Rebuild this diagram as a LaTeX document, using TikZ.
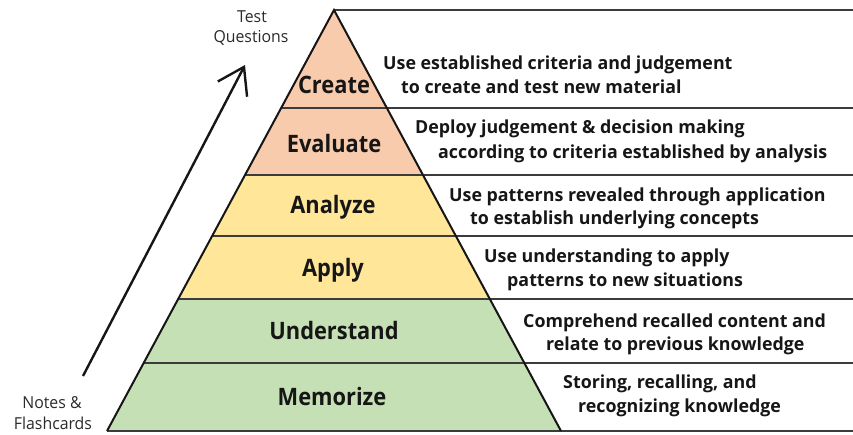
\documentclass[tikz,border=0pt]{standalone}
\usepackage{fontspec}
\setmainfont{Open Sans}[FakeStretch=0.91]
\newfontfamily\descfont{Open Sans}[FakeStretch=0.99]
\newfontfamily\sidefont{Open Sans}[FakeStretch=0.96]
\usetikzlibrary{arrows.meta}
\definecolor{peach}{HTML}{F8CBAD}
\definecolor{gold}{HTML}{FFE699}
\definecolor{leaf}{HTML}{C5E0B4}
\definecolor{ink}{HTML}{161616}
\definecolor{rulec}{HTML}{3C3C3C}
\definecolor{sidec}{HTML}{2A2A2A}
\begin{document}
\begin{tikzpicture}[x=1pt,y=-1pt,
  lab/.style={font=\bfseries\fontsize{24}{28}\selectfont, text=ink, anchor=base, inner sep=0pt},
  desc/.style={font=\descfont\bfseries\fontsize{18}{22}\selectfont, text=ink, anchor=base west, inner sep=0pt},
  side/.style={font=\sidefont\fontsize{16.5}{20}\selectfont, text=sidec, anchor=base, inner sep=0pt},
  rule/.style={draw=rulec, line width=2pt},
  divline/.style={draw=rulec, line width=1.6pt},
  edge/.style={draw=ink, line width=2pt, line join=miter},
]
\useasboundingbox (0,0) rectangle (853,435);

% pyramid corners and layer boundaries
\coordinate (apex) at (334,10);
\coordinate (L1) at (281.2,108); \coordinate (R1) at (386.8,108);
\coordinate (L2) at (245.0,175); \coordinate (R2) at (423.0,175);
\coordinate (L3) at (212.1,236); \coordinate (R3) at (455.9,236);
\coordinate (L4) at (178.2,299); \coordinate (R4) at (489.8,299);
\coordinate (L5) at (143.7,363); \coordinate (R5) at (524.3,363);
\coordinate (bl) at (107,431);   \coordinate (br) at (561,431);
% right ends of the table rules
\coordinate (E0) at (853,10);
\coordinate (E1) at (853,108);
\coordinate (E2) at (853,175);
\coordinate (E3) at (853,236);
\coordinate (E4) at (853,299);
\coordinate (E5) at (853,363);
\coordinate (E6) at (853,431);

% layer fills
\fill[peach] (apex) -- (R1) -- (L1) -- cycle;
\fill[peach] (L1) -- (R1) -- (R2) -- (L2) -- cycle;
\fill[gold]  (L2) -- (R2) -- (R3) -- (L3) -- cycle;
\fill[gold]  (L3) -- (R3) -- (R4) -- (L4) -- cycle;
\fill[leaf]  (L4) -- (R4) -- (R5) -- (L5) -- cycle;
\fill[leaf]  (L5) -- (R5) -- (br) -- (bl) -- cycle;

% dividers inside the pyramid
\foreach \i in {1,...,5} \draw[divline] (L\i) -- (R\i);

% table rules to the right
\draw[rule] (apex) -- (E0);
\foreach \i in {1,...,5} \draw[rule] (R\i) -- (E\i);
\draw[rule] (bl) -- (E6);

% pyramid outline
\draw[edge] (bl) -- (apex) -- (br);

% level names
\node[lab] (create)     at (334,94)  {Create};
\node[lab] (evaluate)   at (334,153) {Evaluate};
\node[lab] (analyze)    at (333,214) {Analyze};
\node[lab] (apply)      at (333,277) {Apply};
\node[lab] (understand) at (334,339) {Understand};
\node[lab] (memorize)   at (332,405) {Memorize};

% descriptions
\node[desc] (d1a) at (383,70)  {Use established criteria and judgement};
\node[desc] (d1b) at (401,94)  {to create and test new material};
\node[desc] (d2a) at (415,134) {Deploy judgement \& decision making};
\node[desc] (d2b) at (438,159) {according to criteria established by analysis};
\node[desc] (d3a) at (449,202) {Use patterns revealed through application};
\node[desc] (d3b) at (470,225) {to establish underlying concepts};
\node[desc] (d4a) at (484,263) {Use understanding to apply};
\node[desc] (d4b) at (507,287) {patterns to new situations};
\node[desc] (d5a) at (523,327) {Comprehend recalled content and};
\node[desc] (d5b) at (546,350) {relate to previous knowledge};
\node[desc] (d6a) at (563,388) {Storing, recalling, and};
\node[desc] (d6b) at (578,412) {recognizing knowledge};

% side annotations and progress arrow
\node[side] (test)  at (252,23) {Test};
\node[side] (quest) at (251,43) {Questions};
\node[side] (notes) at (52,408) {Notes \&};
\node[side] (flash) at (53,429) {Flashcards};
\coordinate (arrS) at (83,376);
\coordinate (arrE) at (245,65);
\draw[draw=ink, line width=2.4pt, -{Straight Barb[length=25pt,width=33pt,line width=2.4pt]}] (arrS) -- (arrE);
\end{tikzpicture}
\end{document}
